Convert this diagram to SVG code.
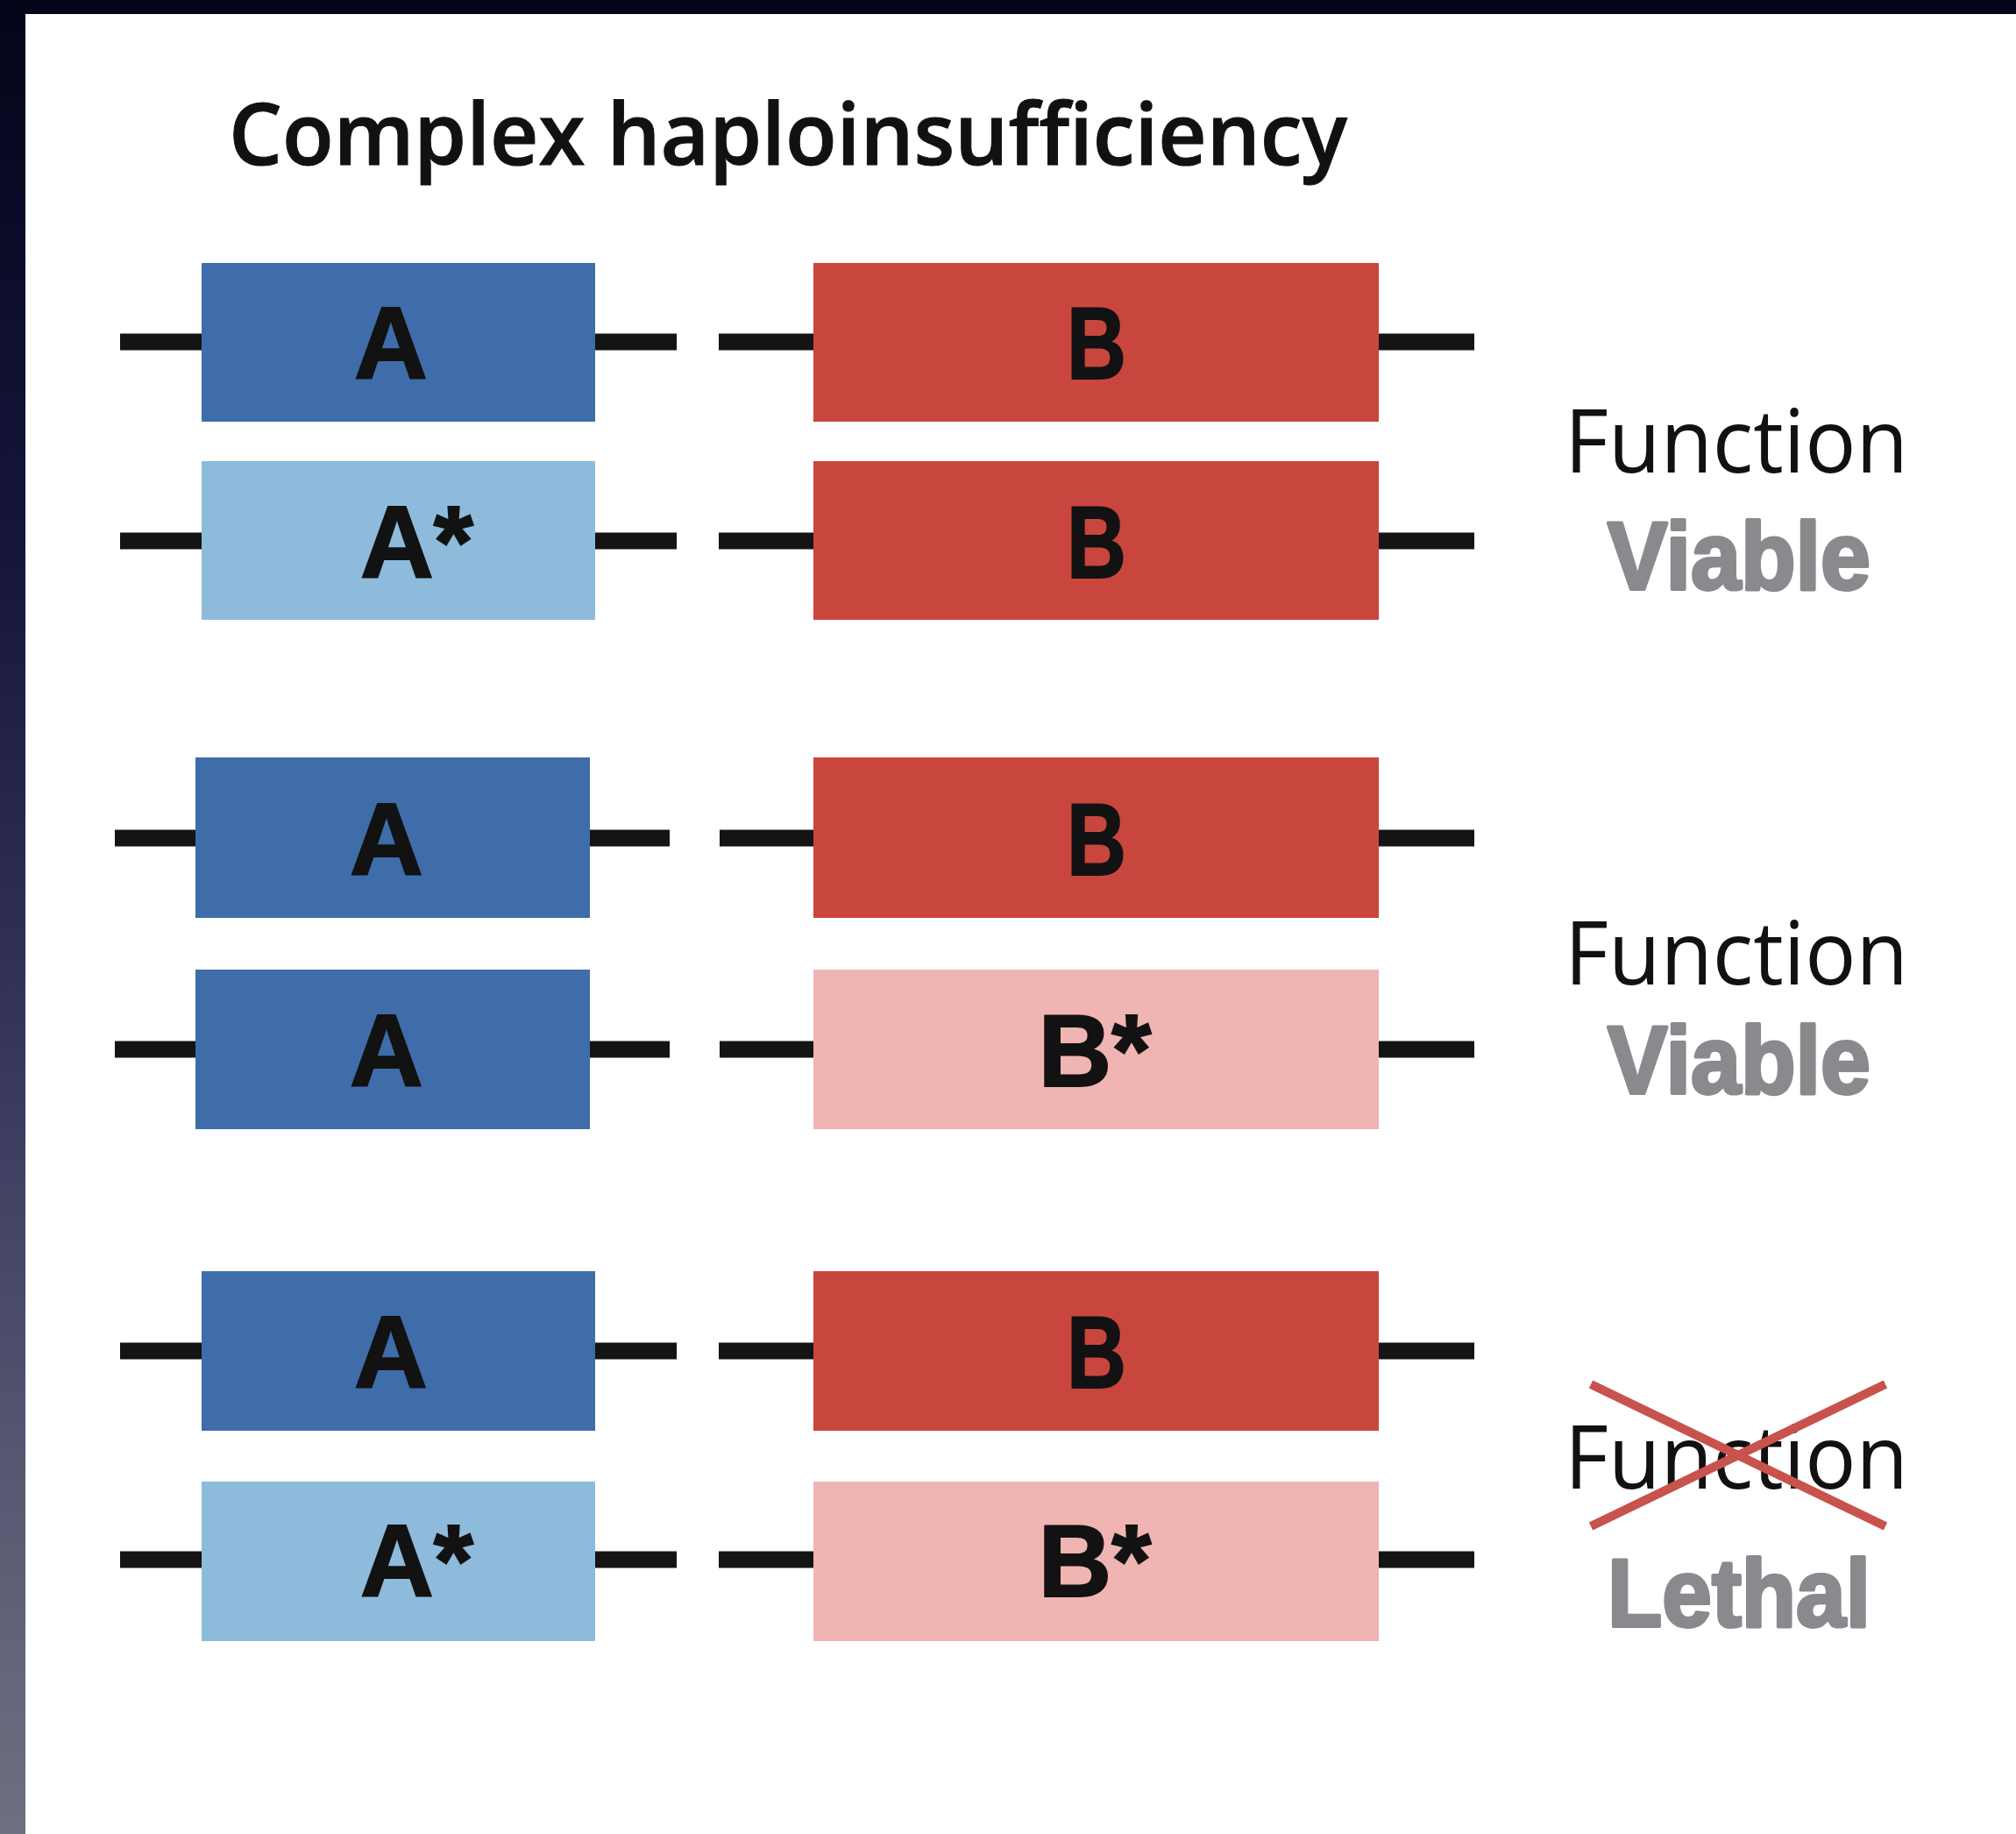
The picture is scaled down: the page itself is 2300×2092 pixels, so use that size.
<svg xmlns="http://www.w3.org/2000/svg" width="2300" height="2092" viewBox="0 0 2300 2092">
  <defs>
    <linearGradient id="edge" x1="0" y1="0" x2="0" y2="1">
      <stop offset="0" stop-color="#04041a"/>
      <stop offset="0.3" stop-color="#16163c"/>
      <stop offset="0.55" stop-color="#34345a"/>
      <stop offset="0.8" stop-color="#575772"/>
      <stop offset="1" stop-color="#6f6f82"/>
    </linearGradient>
    <style>
      .strand { stroke: #141414; stroke-width: 19; fill: none; }
      .geneA { fill: #3e6da9; }
      .geneAm { fill: #8ebbdc; }
      .geneB { fill: #c9463f; }
      .geneBm { fill: #f0b4b2; }
      .glabel { font-family: "Liberation Sans", Arial, sans-serif; font-weight: 700; font-size: 116px; fill: #121212; stroke: #121212; stroke-width: 2; }
      .fn { font-family: "Open Sans", "Liberation Sans", sans-serif; font-size: 100px; fill: #111111; }
      .out { font-family: "Liberation Sans", Arial, sans-serif; font-weight: 700; font-size: 110px; fill: #8a8a8e; stroke: #8a8a8e; stroke-width: 4; stroke-linejoin: round; }
      .title { font-family: "Open Sans", "Liberation Sans", sans-serif; font-weight: 600; font-size: 98px; fill: #111111; stroke: #111111; stroke-width: 1; }
      .cross { stroke: #c8524c; stroke-width: 10; stroke-linecap: butt; }
    </style>
  </defs>

  <!-- page background with dark frame on the top and left -->
  <rect x="0" y="0" width="2300" height="2092" fill="#ffffff"/>
  <rect x="0" y="0" width="29" height="2092" fill="url(#edge)"/>
  <rect x="0" y="0" width="2300" height="16" fill="#05051a"/>

  <text class="title" x="261" y="188" textLength="1276" lengthAdjust="spacingAndGlyphs">Complex haploinsufficiency</text>

  <!-- DNA strands either side of each gene -->
  <g id="connectors">
    <path class="strand" d="M137 390H230M679 390H772M820 390H928M1573 390H1682"/>
    <path class="strand" d="M137 617H230M679 617H772M820 617H928M1573 617H1682"/>
    <path class="strand" d="M131 956H223M673 956H764M821 956H928M1573 956H1682"/>
    <path class="strand" d="M131 1197H223M673 1197H764M821 1197H928M1573 1197H1682"/>
    <path class="strand" d="M137 1541H230M679 1541H772M820 1541H928M1573 1541H1682"/>
    <path class="strand" d="M137 1779H230M679 1779H772M820 1779H928M1573 1779H1682"/>
  </g>

  <!-- pair 1: A/A*, B/B -->
  <g id="r1-A"><rect class="geneA" x="230" y="300" width="449" height="181"/><text class="glabel" x="446" y="432" text-anchor="middle">A</text></g>
  <g id="r1-B"><rect class="geneB" x="928" y="300" width="645" height="181"/><text class="glabel" x="1251" y="432" text-anchor="middle" textLength="68" lengthAdjust="spacingAndGlyphs">B</text></g>
  <g id="r2-Am"><rect class="geneAm" x="230" y="526" width="449" height="181"/><text class="glabel" x="411" y="659">A*</text></g>
  <g id="r2-B"><rect class="geneB" x="928" y="526" width="645" height="181"/><text class="glabel" x="1251" y="659" text-anchor="middle" textLength="68" lengthAdjust="spacingAndGlyphs">B</text></g>

  <!-- pair 2: A/A, B/B* -->
  <g id="r3-A"><rect class="geneA" x="223" y="864" width="450" height="183"/><text class="glabel" x="441" y="998" text-anchor="middle">A</text></g>
  <g id="r3-B"><rect class="geneB" x="928" y="864" width="645" height="183"/><text class="glabel" x="1251" y="998" text-anchor="middle" textLength="68" lengthAdjust="spacingAndGlyphs">B</text></g>
  <g id="r4-A"><rect class="geneA" x="223" y="1106" width="450" height="182"/><text class="glabel" x="441" y="1239" text-anchor="middle">A</text></g>
  <g id="r4-Bm"><rect class="geneBm" x="928" y="1106" width="645" height="182"/><text class="glabel" x="1249" y="1239" text-anchor="middle">B*</text></g>

  <!-- pair 3: A/A*, B/B* -->
  <g id="r5-A"><rect class="geneA" x="230" y="1450" width="449" height="182"/><text class="glabel" x="446" y="1583" text-anchor="middle">A</text></g>
  <g id="r5-B"><rect class="geneB" x="928" y="1450" width="645" height="182"/><text class="glabel" x="1251" y="1583" text-anchor="middle" textLength="68" lengthAdjust="spacingAndGlyphs">B</text></g>
  <g id="r6-Am"><rect class="geneAm" x="230" y="1690" width="449" height="182"/><text class="glabel" x="411" y="1821">A*</text></g>
  <g id="r6-Bm"><rect class="geneBm" x="928" y="1690" width="645" height="182"/><text class="glabel" x="1249" y="1821" text-anchor="middle">B*</text></g>

  <!-- outcomes -->
  <g id="outcome-1">
    <text class="fn" x="1785" y="539" textLength="392" lengthAdjust="spacingAndGlyphs">Function</text>
    <text class="out" x="1834" y="672" textLength="300" lengthAdjust="spacingAndGlyphs">Viable</text>
  </g>
  <g id="outcome-2">
    <text class="fn" x="1785" y="1123" textLength="392" lengthAdjust="spacingAndGlyphs">Function</text>
    <text class="out" x="1834" y="1247" textLength="300" lengthAdjust="spacingAndGlyphs">Viable</text>
  </g>
  <g id="outcome-3">
    <text class="fn" x="1785" y="1698" textLength="392" lengthAdjust="spacingAndGlyphs">Function</text>
    <line class="cross" x1="1815" y1="1579" x2="2151" y2="1741"/>
    <line class="cross" x1="1815" y1="1741" x2="2151" y2="1579"/>
    <text class="out" x="1834" y="1855" textLength="300" lengthAdjust="spacingAndGlyphs">Lethal</text>
  </g>
</svg>
